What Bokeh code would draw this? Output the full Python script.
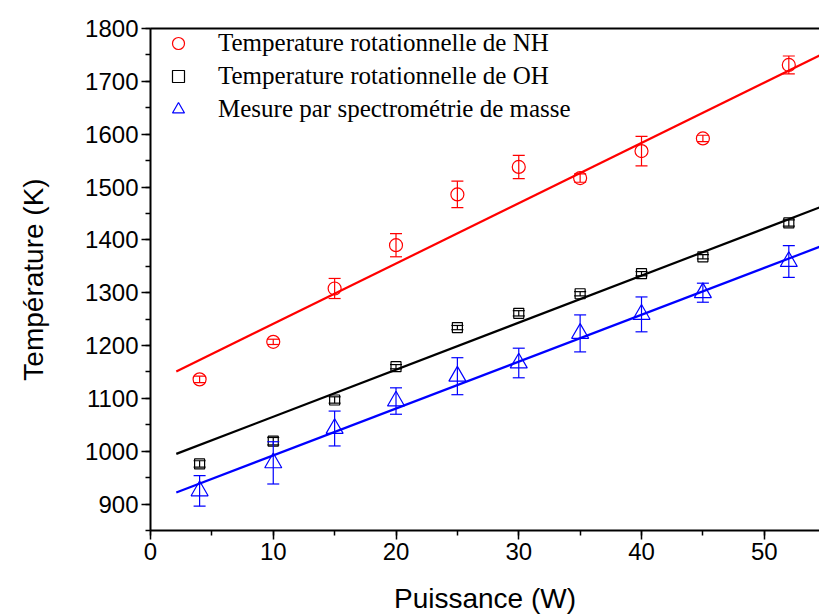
from bokeh.plotting import figure
from bokeh.models import (Range1d, LinearAxis, SingleIntervalTicker, FixedTicker,
                          ColumnDataSource, Whisker, TeeHead, Legend, LegendItem)
from bokeh.embed import file_html
from bokeh.resources import INLINE

# ---- data ----
power = [4, 10, 15, 20, 25, 30, 35, 40, 45, 52]

t_nh = [1136, 1207, 1308, 1390, 1486, 1538, 1517, 1568, 1592, 1731]
e_nh = [6, 5, 19, 22, 25, 22, 8, 28, 6, 17]

t_oh = [976, 1019, 1097, 1160, 1234, 1261, 1298, 1336, 1368, 1432]
e_oh = [6, 7, 6, 4, 4, 5, 4, 4, 4, 6]

t_ms = [925, 978, 1043, 1095, 1142, 1167, 1223, 1259, 1300, 1359]
e_ms = [29, 40, 33, 25, 35, 28, 35, 33, 18, 30]

# linear fits (intercept, slope) and their drawn extent
fit_nh = [1127.0, 11.41]
fit_oh = [976.3, 8.90]
fit_ms = [903.4, 8.87]
fit_x = [2.1, 56.0]

labels = ["Temperature rotationnelle de NH",
          "Temperature rotationnelle de OH",
          "Mesure par spectrométrie de masse"]

RED, BLACK, BLUE = "#FF0000", "#000000", "#0000FF"

p = figure(width=819, height=616, output_backend="svg", toolbar_location=None,
           x_range=Range1d(0, 54.5), y_range=Range1d(850, 1800),
           min_border_left=150, min_border_right=0, min_border_top=28,
           min_border_bottom=86, x_axis_location=None, y_axis_location=None)
p.outline_line_color = None
p.xgrid.visible = False
p.ygrid.visible = False
p.background_fill_color = "white"
p.border_fill_color = "white"

TICK_FONT = "Liberation Sans"

xaxis = LinearAxis(ticker=SingleIntervalTicker(interval=10, num_minor_ticks=2),
                   axis_label="Puissance (W)")
yaxis = LinearAxis(ticker=SingleIntervalTicker(interval=100, num_minor_ticks=2),
                   axis_label="Température (K)")
for ax in (xaxis, yaxis):
    ax.axis_line_width = 2
    ax.major_tick_line_width = 1.5
    ax.minor_tick_line_width = 1.5
    ax.major_tick_in = 0
    ax.major_tick_out = 9
    ax.minor_tick_in = 0
    ax.minor_tick_out = 5
    ax.major_label_text_font = TICK_FONT
    ax.major_label_text_font_size = "24px"
    ax.major_label_text_color = "black"
    ax.axis_label_text_font = TICK_FONT
    ax.axis_label_text_font_size = "28px"
    ax.axis_label_text_font_style = "normal"
    ax.axis_label_text_color = "black"
    ax.major_label_standoff = 3
xaxis.axis_label_standoff = 20
yaxis.axis_label_standoff = 33
p.add_layout(xaxis, "below")
p.add_layout(yaxis, "left")

top = LinearAxis(ticker=FixedTicker(ticks=[]))
top.axis_line_width = 2
top.major_tick_out = 0
top.major_tick_in = 0
top.minor_tick_out = 0
top.major_label_text_font_size = "0px"
top.major_label_standoff = 0
p.add_layout(top, "above")

series = [
    (t_nh, e_nh, fit_nh, RED, "circle", 13),
    (t_oh, e_oh, fit_oh, BLACK, "square", 10),
    (t_ms, e_ms, fit_ms, BLUE, "triangle", 17),
]

items = []
for (vals, errs, fit, col, marker, size), lab in zip(series, labels):
    src = ColumnDataSource(dict(
        x=power, y=vals,
        upper=[v + e for v, e in zip(vals, errs)],
        lower=[v - e for v, e in zip(vals, errs)]))
    # fit line
    p.line(x=fit_x, y=[fit[0] + fit[1] * xv for xv in fit_x],
           line_color=col, line_width=2.2)
    w = Whisker(source=src, base="x", upper="upper", lower="lower",
                line_color=col, line_width=1.2, level="glyph",
                upper_head=TeeHead(size=12, line_color=col, line_width=1.2),
                lower_head=TeeHead(size=12, line_color=col, line_width=1.2))
    p.add_layout(w)
    r = p.scatter(x="x", y="y", source=src, marker=marker, size=size,
                  fill_color=None, line_color=col, line_width=1.2)
    items.append(LegendItem(label=lab, renderers=[r]))

legend = Legend(items=items, location="top_left")
legend.border_line_color = None
legend.background_fill_alpha = 0
legend.margin = 0
legend.padding = 12
legend.glyph_width = 56
legend.glyph_height = 30
legend.label_height = 30
legend.spacing = 3
legend.label_standoff = 12
legend.label_text_font = "Liberation Serif"
legend.label_text_font_size = "25px"
legend.label_text_color = "black"
p.add_layout(legend)

open("out.html", "w").write(file_html(p, INLINE))
